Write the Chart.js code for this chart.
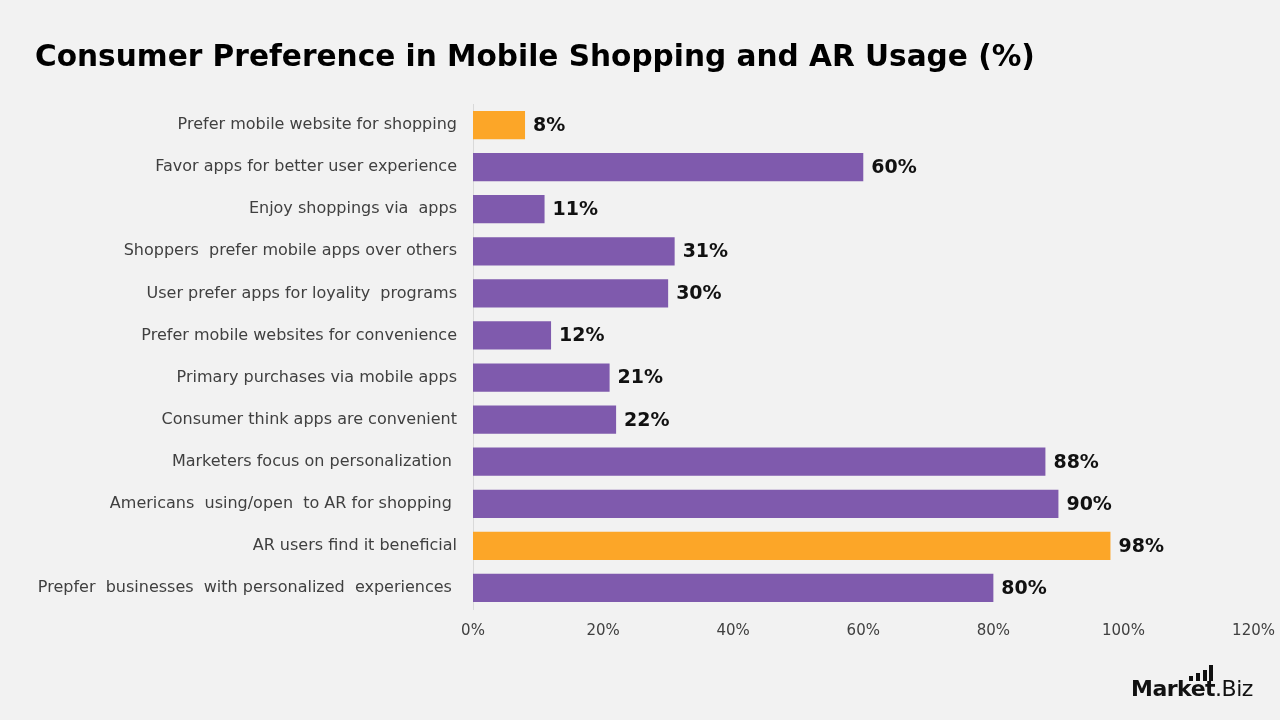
<!DOCTYPE html>
<html>
<head>
<meta charset="utf-8">
<script src="https://cdn.jsdelivr.net/npm/chart.js@4"></script>
<style>
  html, body { margin: 0; padding: 0; background: #f2f2f2; }
  #wrap { position: relative; width: 1280px; height: 720px; }
  #title { position: absolute; left: 35px; top: 38px; margin: 0; font-family: "DejaVu Sans", sans-serif; font-size: 29.6px; font-weight: bold; color: #000; line-height: 36px; }
  #logo { position: absolute; left: 1131px; top: 676px; font-family: "DejaVu Sans", sans-serif; font-size: 22px; color: #111; letter-spacing: -0.5px; }
  #logo b { font-weight: 800; }
  #logo .bars { position: absolute; left: 58px; top: 5px; }
  #logo .bars i { position: absolute; bottom: 0; width: 4px; background: #111; }
</style>
</head>
<body>
<div id="wrap">
  <canvas id="prefChart" width="1280" height="720"></canvas>
  <h1 id="title">Consumer Preference in Mobile Shopping and AR Usage (%)</h1>
  <div id="logo"><b>Market</b>.Biz
    <span class="bars"><i style="left:0;height:5px"></i><i style="left:7px;height:8px"></i><i style="left:14px;height:11px"></i><i style="left:20px;height:16px"></i></span>
  </div>
</div>
<script>
const labels = [
  "Prefer mobile website for shopping",
  "Favor apps for better user experience",
  "Enjoy shoppings via  apps",
  "Shoppers  prefer mobile apps over others",
  "User prefer apps for loyality  programs",
  "Prefer mobile websites for convenience",
  "Primary purchases via mobile apps",
  "Consumer think apps are convenient",
  "Marketers focus on personalization ",
  "Americans  using/open  to AR for shopping ",
  "AR users find it beneficial",
  "Prepfer  businesses  with personalized  experiences "
];
const values = [8, 60, 11, 31, 30, 12, 21, 22, 88, 90, 98, 80];
const highlighted = [0, 10];

const purple = "#7f5aad";
const orange = "#fca628";
const barColors = values.map((v, i) => highlighted.includes(i) ? orange : purple);

const fontFamily = "'DejaVu Sans', sans-serif";

// value labels at the end of each bar
const valueLabels = {
  id: "valueLabels",
  afterDatasetsDraw(chart) {
    const ctx = chart.ctx;
    const meta = chart.getDatasetMeta(0);
    ctx.save();
    ctx.font = "bold 19px " + fontFamily;
    ctx.fillStyle = "#111";
    ctx.textAlign = "left";
    ctx.textBaseline = "middle";
    meta.data.forEach((bar, i) => {
      ctx.fillText(values[i] + "%", bar.x + 8, bar.y + 1);
    });
    ctx.restore();
  }
};

new Chart("prefChart", {
  type: "bar",
  data: {
    labels: labels,
    datasets: [{
      data: values,
      backgroundColor: barColors,
      barPercentage: 0.67,
      categoryPercentage: 1
    }]
  },
  options: {
    indexAxis: "y",
    responsive: false,
    animation: false,
    layout: { padding: { left: 0, right: 20, top: 104, bottom: 75 } },
    plugins: {
      legend: { display: false },
      tooltip: { enabled: false },
      title: { display: false }
    },
    scales: {
      x: {
        min: 0,
        max: 120,
        ticks: {
          stepSize: 20,
          callback: (v) => v + "%",
          color: "#404040",
          font: { family: fontFamily, size: 15 },
          padding: 5
        },
        grid: { display: false },
        border: { display: false }
      },
      y: {
        afterFit: (s) => { s.width = 473; },
        ticks: {
          color: "#404040",
          font: { family: fontFamily, size: 16 },
          padding: 8
        },
        grid: { display: false },
        border: { display: true, color: "#d9d9d9", width: 1 }
      }
    }
  },
  plugins: [valueLabels]
});
</script>
</body>
</html>
